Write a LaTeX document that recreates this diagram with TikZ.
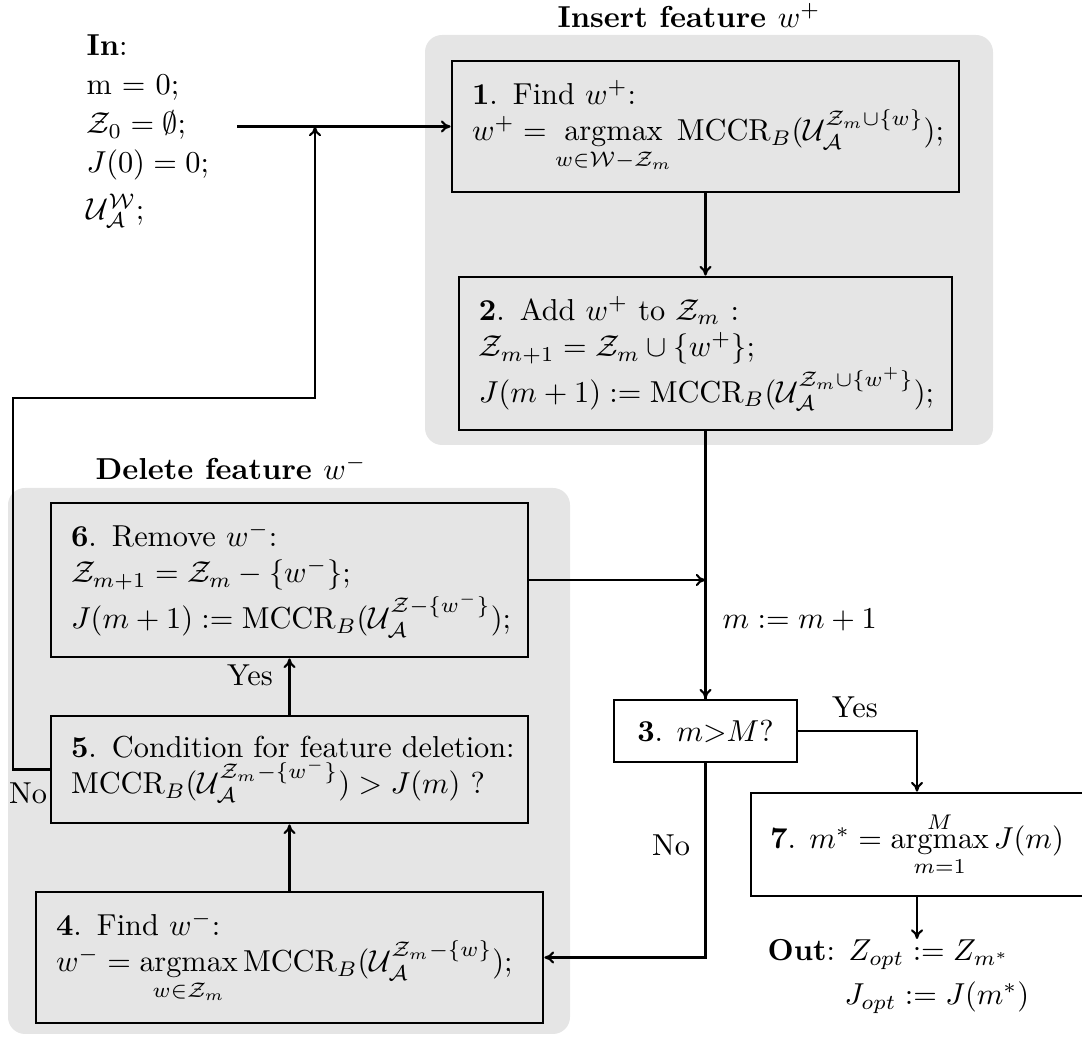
\documentclass[tikz,border=0pt]{standalone}
\usepackage{amsmath,amssymb}
\usetikzlibrary{arrows.meta}

\newcommand{\argmaxop}{\mathop{\mathrm{argmax}}\limits}
\newcommand{\Ucal}{\mathcal{U}_{\mathcal{A}}}

\begin{document}
\begin{tikzpicture}[x=0.33pt, y=-0.33pt,
    stepbox/.style={draw, line width=0.9pt, inner xsep=6.6pt, inner ysep=0pt, align=left},
    plainbox/.style={draw, line width=0.9pt, inner sep=0pt, align=center},
    flow/.style={line width=0.7pt, -{To[length=3.2pt,width=4pt]}},
    link/.style={line width=0.7pt},
    shadedgroup/.style={fill=black!10, rounded corners=5.6pt},
    headline/.style={inner sep=0pt, font=\bfseries},
    lbl/.style={inner sep=0pt}]

  \useasboundingbox (0,0) rectangle (1082,1037);
  \clip (0,0) rectangle (1082,1037);

  % shaded groups
  \fill[shadedgroup] (425,35) rectangle (993,445);
  \fill[shadedgroup] (8,488) rectangle (570,1034);
  \node[headline] (tins) at (689,16) {Insert feature $w^+$};
  \node[headline] (tdel) at (231,468) {Delete feature $w^-$};

  % input
  \node[lbl, anchor=north west, align=left] (in) at (86,34)
    {\textbf{In}:\\[1pt] m $=$ 0;\\[0.8pt] $\mathcal{Z}_0=\emptyset$;\\[0.8pt] $J(0)=0$;\\[3.5pt] $\Ucal^{\mathcal{W}}$;};

  % insertion steps
  \node[stepbox, text width=154.1pt, minimum width=167.31pt, minimum height=43.23pt] (box1) at (705.5,126.5)
    {\mbox{\textbf{1}. Find $w^+$:}\\
     \mbox{$w^+ = \argmaxop_{w\in\mathcal{W}-\mathcal{Z}_m}\mathrm{MCCR}_B(\Ucal^{\mathcal{Z}_m\cup\{w\}})$;}};
  \node[stepbox, text width=149.5pt, minimum width=162.69pt, minimum height=50.49pt] (box2) at (705.5,353.5)
    {\mbox{\textbf{2}. Add $w^+$ to $\mathcal{Z}_m$ :}\\
     \mbox{$\mathcal{Z}_{m+1}=\mathcal{Z}_m\cup\{w^+\}$;}\\
     \mbox{$J(m+1) := \mathrm{MCCR}_B(\Ucal^{\mathcal{Z}_m\cup\{w^+\}})$;}};

  % deletion steps
  \node[stepbox, text width=144.2pt, minimum width=157.41pt, minimum height=50.82pt] (box6) at (289.5,580)
    {\mbox{\textbf{6}. Remove $w^-$:}\\
     \mbox{$\mathcal{Z}_{m+1}=\mathcal{Z}_m-\{w^-\}$;}\\
     \mbox{$J(m+1) := \mathrm{MCCR}_B(\Ucal^{\mathcal{Z}-\{w^-\}})$;}};
  \node[stepbox, text width=144.2pt, minimum width=157.41pt, minimum height=35.31pt] (box5) at (289.5,769.5)
    {\mbox{\textbf{5}. Condition for feature deletion:}\\
     \mbox{$\mathrm{MCCR}_B(\Ucal^{\mathcal{Z}_m-\{w^-\}}) > J(m)$ ?}};
  \node[stepbox, text width=154.1pt, minimum width=167.31pt, minimum height=43.23pt] (box4) at (289.5,957.5)
    {\mbox{\textbf{4}. Find $w^-$:}\\
     \mbox{$w^- = \argmaxop_{w\in\mathcal{Z}_m}\mathrm{MCCR}_B(\Ucal^{\mathcal{Z}_m-\{w\}})$;}};

  % test and result
  \node[plainbox, minimum width=60.39pt, minimum height=20.46pt] (box3) at (705.5,731)
    {\textbf{3}. $m{>}M$?};
  \node[plainbox, minimum width=109.56pt, minimum height=33.99pt] (box7) at (917,844.5)
    {\textbf{7}. $m^* = \argmaxop_{m=1}^{M} J(m)$};
  \node[lbl, anchor=north west, align=left] (out) at (767,939)
    {\textbf{Out}: $Z_{opt} := Z_{m^*}$\\[2.5pt]
     \hphantom{\textbf{Out}: }\hspace*{-1.3pt}$J_{opt} := J(m^*)$};

  % junction points
  \coordinate (instart) at (237,126.5);
  \coordinate (merge) at (315,126.5);
  \coordinate (loopcorner) at (13,398);
  \coordinate (join) at (705.5,580);

  % connectors
  \draw[flow] (instart) -- (box1.west);
  \draw[flow] (box5.west) -| (loopcorner) -| (merge);
  \draw[flow] (box1) -- (box2);
  \draw[flow] (box2) -- (box3);
  \draw[flow] (box6.east) -- (join);
  \draw[link, line width=0.9pt] (join) -- (box3.north);
  \draw[flow] (box3.east) -| (box7.north);
  \draw[flow] (box3.south) |- (box4.east);
  \draw[flow] (box4) -- (box5);
  \draw[flow] (box5) -- (box6);
  \draw[flow] (box7.south) -- (box7.south |- out.north);

  % labels
  \node[lbl] (yes1) at (250,675) {Yes};
  \node[lbl] (no1) at (28,793) {No};
  \node[lbl] (yes2) at (855,707) {Yes};
  \node[lbl] (no2) at (671,845) {No};
  \node[lbl, anchor=west] (inc) at (722,620) {$m := m+1$};
\end{tikzpicture}
\end{document}
